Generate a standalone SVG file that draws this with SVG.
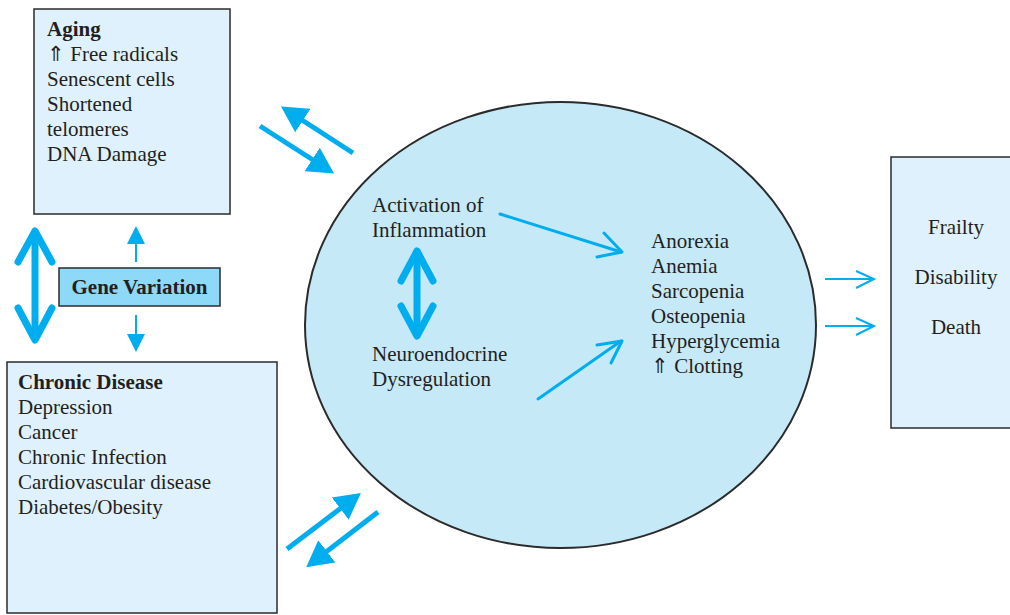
<svg xmlns="http://www.w3.org/2000/svg" width="1010" height="615" viewBox="0 0 1010 615">
<style>
.box{fill:#dff1fc;stroke:#2b2b2b;stroke-width:1.5}
.t{font-family:"Liberation Serif","Times New Roman",serif;font-size:21px;fill:#231f20}
.b{font-weight:bold}
.thick{stroke:#00aeef;stroke-width:5;fill:none}
.dbl{stroke:#00aeef;stroke-width:7;fill:none;stroke-linecap:round;stroke-linejoin:round}
.thin{stroke:#00aeef;stroke-width:3;fill:none;stroke-linecap:round;stroke-linejoin:round}
.hair{stroke:#00aeef;stroke-width:2;fill:none;stroke-linejoin:miter}
</style>
<defs>
<marker id="big" markerUnits="userSpaceOnUse" markerWidth="26" markerHeight="28" viewBox="0 0 26 28" refX="1" refY="14" orient="auto">
<path d="M0,0 L26,14 L0,28 z" fill="#00aeef"/>
</marker>
<marker id="sm" markerUnits="userSpaceOnUse" markerWidth="18" markerHeight="18" viewBox="0 0 18 18" refX="1" refY="9" orient="auto">
<path d="M0,0 L18,9 L0,18 z" fill="#00aeef"/>
</marker>
</defs>
<rect width="1010" height="615" fill="#fff"/>

<g id="core">
<ellipse cx="560.5" cy="325" rx="255.5" ry="223" fill="#c6e9f8" stroke="#2b2b2b" stroke-width="2"/>
<text class="t" x="372" y="212">Activation of</text>
<text class="t" x="372" y="237">Inflammation</text>
<text class="t" x="372" y="361">Neuroendocrine</text>
<text class="t" x="372" y="386">Dysregulation</text>
<text class="t" x="651" y="248">Anorexia</text>
<text class="t" x="651" y="273">Anemia</text>
<text class="t" x="651" y="298">Sarcopenia</text>
<text class="t" x="651" y="323">Osteopenia</text>
<text class="t" x="651" y="348">Hyperglycemia</text>
<text class="t" x="651" y="373">⇑ Clotting</text>
</g>

<g id="aging">
<rect class="box" x="34" y="9" width="196" height="205"/>
<text class="t b" x="47" y="36">Aging</text>
<text class="t" x="47" y="61">⇑ Free radicals</text>
<text class="t" x="47" y="86">Senescent cells</text>
<text class="t" x="47" y="111">Shortened</text>
<text class="t" x="47" y="136">telomeres</text>
<text class="t" x="47" y="161">DNA Damage</text>
</g>

<g id="gene">
<rect x="59" y="268" width="161" height="38" fill="#8ed8f8" stroke="#2b2b2b" stroke-width="1.5"/>
<text class="t b" x="139.5" y="294" text-anchor="middle" font-size="20">Gene Variation</text>
</g>

<g id="chronic">
<rect class="box" x="7" y="362" width="270" height="251"/>
<text class="t b" x="18" y="389">Chronic Disease</text>
<text class="t" x="18" y="414">Depression</text>
<text class="t" x="18" y="439">Cancer</text>
<text class="t" x="18" y="464">Chronic Infection</text>
<text class="t" x="18" y="489">Cardiovascular disease</text>
<text class="t" x="18" y="514">Diabetes/Obesity</text>
</g>

<g id="outcomes">
<rect class="box" x="891" y="157" width="130" height="271"/>
<text class="t" x="956" y="234" text-anchor="middle">Frailty</text>
<text class="t" x="956" y="284" text-anchor="middle">Disability</text>
<text class="t" x="956" y="334" text-anchor="middle">Death</text>
</g>

<g id="connectors">
<line class="thick" x1="260" y1="126" x2="313" y2="160" marker-end="url(#big)"/>
<line class="thick" x1="353" y1="153" x2="302" y2="120" marker-end="url(#big)"/>
<line class="thick" x1="287" y1="549" x2="341" y2="508" marker-end="url(#big)"/>
<line class="thick" x1="378" y1="512" x2="326" y2="552" marker-end="url(#big)"/>
<line stroke="#00aeef" stroke-width="2" x1="136" y1="262" x2="136" y2="243" marker-end="url(#sm)"/>
<line stroke="#00aeef" stroke-width="2" x1="136" y1="315" x2="136" y2="335" marker-end="url(#sm)"/>
<line class="dbl" x1="35" y1="233" x2="35" y2="338"/>
<polyline class="dbl" points="18,262 35,231 52,262"/>
<polyline class="dbl" points="18,308 35,340 52,308"/>
<line class="dbl" x1="417" y1="253" x2="417" y2="334"/>
<polyline class="dbl" points="401,281 417,251 433,281"/>
<polyline class="dbl" points="401,306 417,336 433,306"/>
<line class="thin" x1="500" y1="214" x2="621" y2="252"/>
<polyline class="thin" points="604,233 622,252 597,257"/>
<line class="thin" x1="538" y1="399" x2="621" y2="341"/>
<polyline class="thin" points="597,345 622,341 611,363"/>
<line class="hair" x1="825" y1="279" x2="873" y2="279"/>
<polyline class="hair" points="856,271 874,279 856,288"/>
<line class="hair" x1="825" y1="326" x2="873" y2="326"/>
<polyline class="hair" points="856,318 874,326 856,335"/>
</g>
</svg>
